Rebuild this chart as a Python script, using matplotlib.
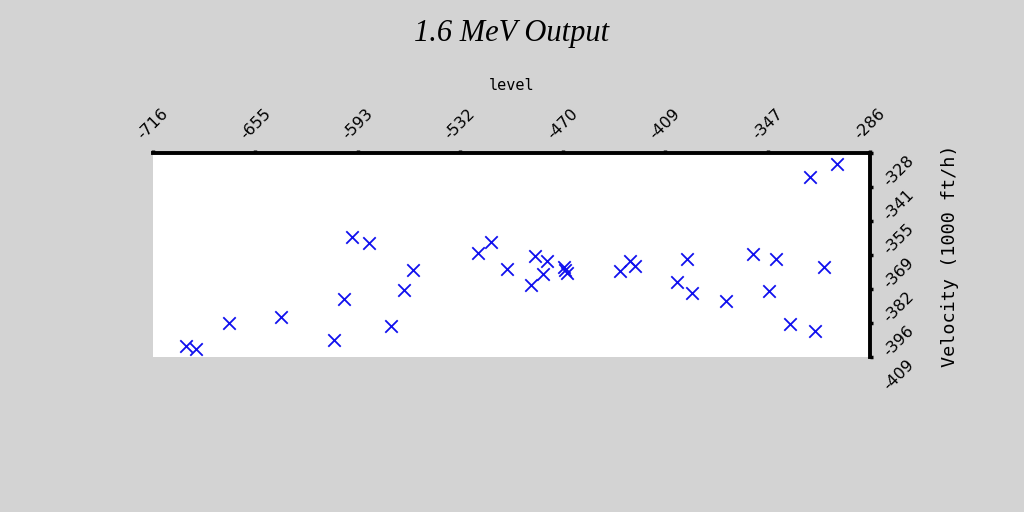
import matplotlib
matplotlib.use("Agg")
import matplotlib.pyplot as plt
import numpy as np

# Data
level = [-696.4, -690.2, -670.2, -639.4, -607.5, -601.5, -596.5, -586.5, -573.1,
         -565.5, -559.9, -520.9, -513.5, -503.9, -489.5, -487.1, -481.9, -479.5,
         -469.5, -468.9, -467.7, -435.9, -429.9, -426.9, -401.6, -395.6, -392.6,
         -372.5, -356.2, -346.8, -342.4, -334.0, -322.0, -319.0, -313.4, -305.6]
velocity = [-404.6, -405.8, -395.4, -393.0, -402.3, -386.0, -361.5, -363.6, -396.7,
            -382.4, -374.5, -367.6, -363.5, -374.1, -380.4, -368.9, -376.0, -370.8,
            -373.3, -374.5, -375.8, -374.7, -370.8, -372.9, -379.3, -370.1, -383.5,
            -386.9, -368.1, -382.7, -370.2, -396.0, -337.6, -398.7, -373.2, -332.4]

x_ticks = [-716, -655, -593, -532, -470, -409, -347, -286]
y_ticks = [-409, -396, -382, -369, -355, -341, -328]

x_min, x_max = -716, -286
y_min, y_max = -409, -328

bg = "#d3d3d3"
fig = plt.figure(figsize=(10.24, 5.12), dpi=100, facecolor=bg)
ax = fig.add_axes([153/1024, 1 - 357/512, (870-153)/1024, (357-153)/512])
ax.set_facecolor("white")

ax.scatter(level, velocity, marker="x", color="#1010ee", s=80, linewidths=1.3, zorder=3, clip_on=False)

ax.set_xlim(x_min, x_max)
ax.set_ylim(y_min, y_max)

ax.xaxis.tick_top()
ax.yaxis.tick_right()
ax.set_xticks(np.linspace(x_min, x_max, len(x_ticks)))
ax.set_xticklabels([str(v) for v in x_ticks])
ax.set_yticks(np.linspace(y_min, y_max, len(y_ticks)))
ax.set_yticklabels([str(v) for v in y_ticks])

for s in ["left", "bottom"]:
    ax.spines[s].set_visible(False)
for s in ["top", "right"]:
    ax.spines[s].set_linewidth(2.8)
    ax.spines[s].set_color("black")

ax.tick_params(axis="both", direction="out", length=2, width=2.5, colors="black",
               labelsize=11.5, pad=6)
for lab in ax.get_xticklabels():
    lab.set_rotation(45)
    lab.set_ha("center")
    lab.set_va("bottom")
for lab in ax.get_yticklabels():
    lab.set_rotation(45)
    lab.set_ha("left")
    lab.set_va("top")

fig.text(0.5, 1 - 33/512, "1.6 MeV Output", ha="center", va="center",
         fontsize=22, fontstyle="italic", family="Liberation Serif")
fig.text(0.5, 1 - 86/512, "level", ha="center", va="center",
         fontsize=11, family="DejaVu Sans Mono")
fig.text(950/1024, 1 - 256/512, "Velocity (1000 ft/h)", ha="center", va="center",
         rotation=90, fontsize=13.3, family="DejaVu Sans Mono")

fig.savefig("out.png", dpi=100, facecolor=bg)
